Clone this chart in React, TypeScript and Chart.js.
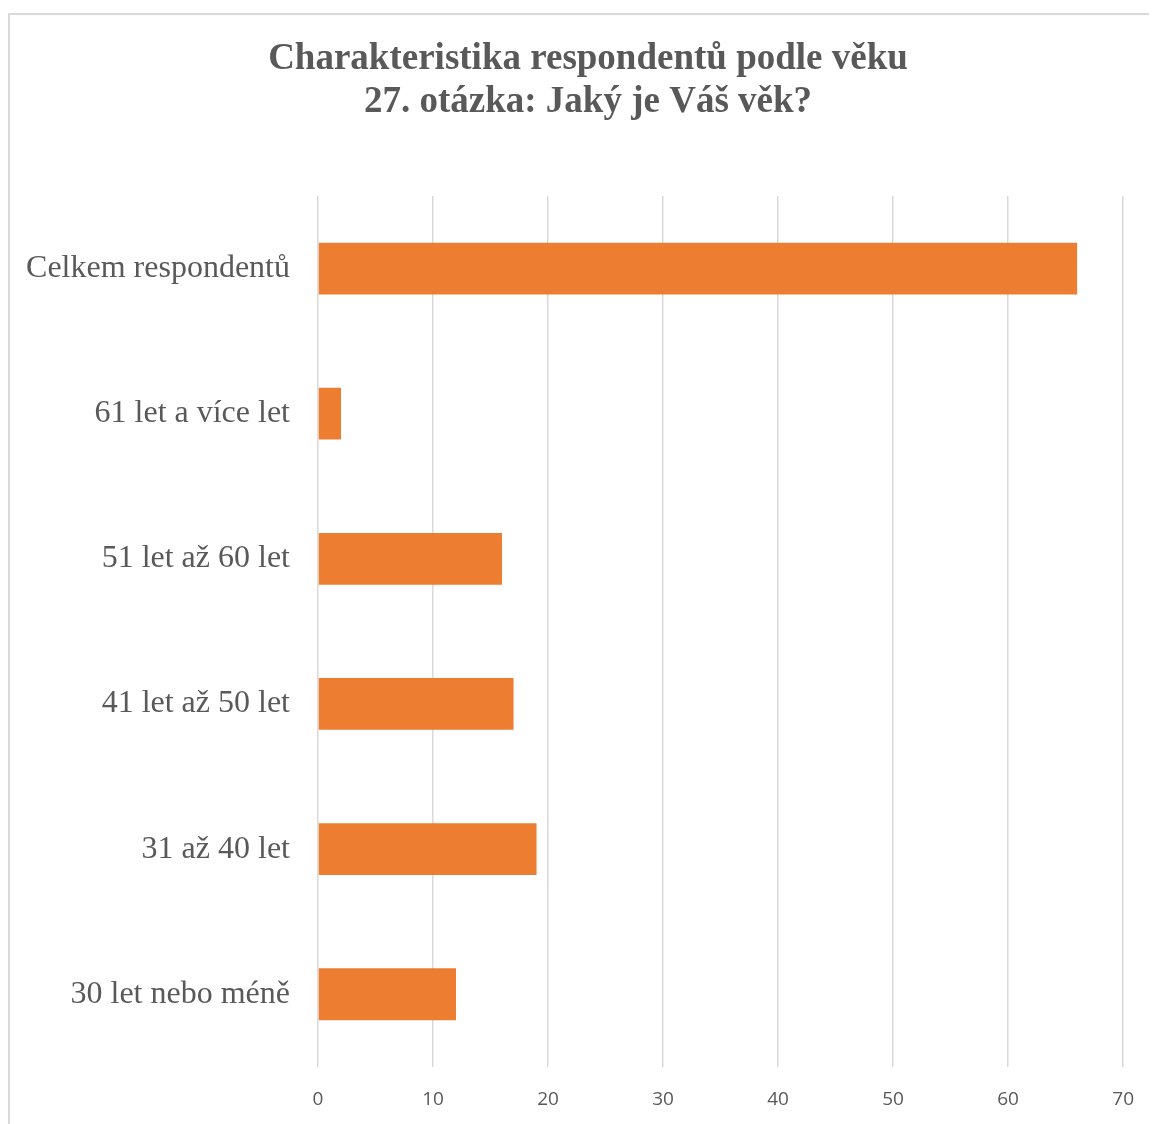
import React, { useEffect, useRef } from "react";
import { Chart, registerables } from "chart.js";

Chart.register(...registerables);

const categories = [
  "Celkem respondentů",
  "61 let a více let",
  "51 let až 60 let",
  "41 let až 50 let",
  "31 až 40 let",
  "30 let nebo méně",
];
const values = [66, 2, 16, 17, 19, 12];
const titleLines = ["Charakteristika respondentů podle věku", "27. otázka: Jaký je Váš věk?"];
const xMin = 0;
const xMax = 70;
const xStep = 10;

const titlePlugin = {
  id: "customTitle",
  afterDraw(chart: any) {
    const ctx = chart.ctx;
    ctx.save();
    ctx.fillStyle = "#595959";
    ctx.font = "bold 37px 'Liberation Serif', 'Times New Roman', serif";
    ctx.textAlign = "center";
    ctx.textBaseline = "alphabetic";
    const cx = 578;
    ctx.fillText(titleLines[0], cx, 54);
    ctx.fillText(titleLines[1], cx, 97);
    ctx.restore();
  },
};

export default function App() {
  const ref = useRef<HTMLCanvasElement>(null);
  useEffect(() => {
    document.documentElement.style.overflow = "hidden";
    if (!ref.current) return;
    const chart = new Chart(ref.current, {
      type: "bar",
      data: {
        labels: categories,
        datasets: [
          {
            data: values,
            backgroundColor: "#ED7D31",
            borderWidth: 0,
            barPercentage: 1,
            categoryPercentage: 0.357,
          },
        ],
      },
      plugins: [titlePlugin],
      options: {
        indexAxis: "y",
        animation: false,
        responsive: false,
        maintainAspectRatio: false,
        layout: { padding: { top: 181, right: 30, left: 0, bottom: 0 } },
        plugins: {
          legend: { display: false },
          tooltip: { enabled: false },
          title: { display: false },
        },
        scales: {
          x: {
            min: xMin,
            max: xMax,
            ticks: {
              stepSize: xStep,
              color: "#595959",
              font: { family: "'Open Sans', 'Noto Sans', sans-serif", size: 19 },
              padding: 21,
            },
            grid: { color: "#d9d9d9", lineWidth: 1.5, drawTicks: false },
            border: { display: false },
            afterFit: (s: any) => {
              s.height = 45;
            },
          },
          y: {
            ticks: {
              color: "#595959",
              font: { family: "'Liberation Serif', 'Times New Roman', serif", size: 32 },
              padding: 28,
            },
            grid: { display: false, drawTicks: false },
            border: { display: false },
            afterFit: (s: any) => {
              s.width = 308;
            },
          },
        },
      },
    });
    return () => chart.destroy();
  }, []);
  return (
    <div
      style={{
        position: "relative",
        marginTop: 5,
        width: 1145,
        height: 1130,
        borderTop: "2px solid #d9d9d9",
        borderLeft: "2px solid #d9d9d9",
        background: "#fff",
      }}
    >
      <canvas ref={ref} width={1145} height={1099} style={{ display: "block" }} />
    </div>
  );
}
